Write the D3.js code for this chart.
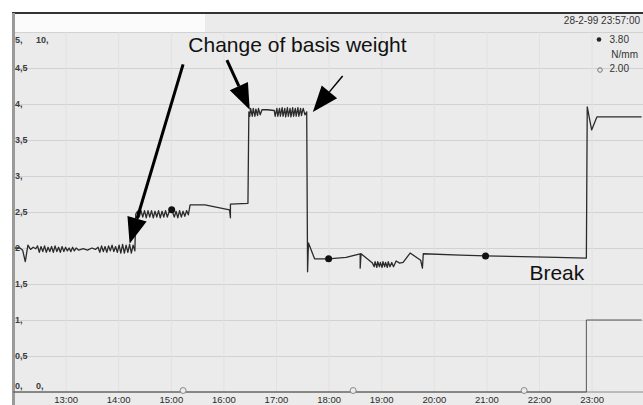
<!DOCTYPE html>
<html>
<head>
<meta charset="utf-8">
<script src="https://cdn.jsdelivr.net/npm/d3@7"></script>
<style>
  body { margin: 0; background: #fff; }
  svg { display: block; font-family: Arial, "Liberation Sans", sans-serif; }
</style>
</head>
<body>
<svg class="trend" width="643" height="405"></svg>
<script>
// tension trace (N/mm), time of day -> value
const tension = [
  ['12:02', 2.00], ['12:08', 2.00], ['12:11', 1.97], ['12:14', 1.81], ['12:17', 2.04], ['12:20', 1.98],
  ['12:23', 2.01], ['12:26', 1.99],
  ['12:28', 2.03], ['12:30', 1.94], ['12:32', 2.02], ['12:34', 1.95], ['12:36', 2.03], ['12:38', 1.94],
  ['12:40', 2.01], ['12:42', 1.95], ['12:44', 2.02], ['12:46', 1.94], ['12:48', 2.03], ['12:50', 1.95],
  ['12:52', 2.01], ['12:54', 1.94], ['12:56', 2.02], ['12:58', 1.95], ['13:00', 2.01], ['13:02', 1.96],
  ['13:04', 2.00], ['13:06', 1.95], ['13:08', 2.01], ['13:10', 1.96], ['13:12', 2.00], ['13:15', 1.97],
  ['13:20', 1.99], ['13:25', 1.97], ['13:30', 2.00], ['13:34', 1.98], ['13:37', 2.01],
  ['13:39', 1.94], ['13:41', 2.03], ['13:43', 1.95], ['13:45', 2.02], ['13:47', 1.94], ['13:49', 2.03],
  ['13:51', 1.96], ['13:53', 2.04], ['13:55', 1.95], ['13:57', 2.02], ['13:59', 1.94], ['14:01', 2.04],
  ['14:03', 1.93], ['14:05', 2.05], ['14:07', 1.93], ['14:09', 2.04], ['14:11', 1.94], ['14:13', 2.05],
  ['14:15', 1.93], ['14:17', 2.04], ['14:19', 1.96],
  ['14:20', 2.47], ['14:22', 2.51], ['14:24', 2.43], ['14:26', 2.52], ['14:28', 2.43], ['14:30', 2.52],
  ['14:32', 2.42], ['14:34', 2.52], ['14:36', 2.43], ['14:38', 2.52], ['14:40', 2.42], ['14:42', 2.51],
  ['14:44', 2.43], ['14:46', 2.52], ['14:48', 2.42], ['14:50', 2.51], ['14:52', 2.43], ['14:54', 2.52],
  ['14:56', 2.43], ['14:58', 2.50], ['15:01', 2.53], ['15:04', 2.43], ['15:06', 2.51], ['15:08', 2.42],
  ['15:10', 2.52], ['15:12', 2.43], ['15:14', 2.51], ['15:16', 2.44], ['15:18', 2.52], ['15:20', 2.46],
  ['15:22', 2.60], ['15:39', 2.60], ['16:07', 2.53], ['16:08', 2.42], ['16:08', 2.61], ['16:28', 2.62],
  ['16:29', 3.89], ['16:30', 3.83], ['16:31', 3.94], ['16:33', 3.83], ['16:34', 3.94], ['16:36', 3.83],
  ['16:37', 3.93], ['16:39', 3.84], ['16:40', 3.94], ['16:42', 3.85], ['16:44', 3.92],
  ['16:50', 3.92], ['16:58', 3.91],
  ['16:59', 3.83], ['17:01', 3.94], ['17:02', 3.83], ['17:04', 3.94], ['17:05', 3.83], ['17:07', 3.95],
  ['17:08', 3.83], ['17:10', 3.94], ['17:11', 3.82], ['17:13', 3.95], ['17:14', 3.83], ['17:16', 3.94],
  ['17:17', 3.82], ['17:19', 3.95], ['17:20', 3.83], ['17:22', 3.94], ['17:23', 3.83], ['17:25', 3.95],
  ['17:26', 3.83], ['17:28', 3.94], ['17:29', 3.84], ['17:31', 3.94], ['17:33', 3.85], ['17:35', 3.89],
  ['17:36', 1.67], ['17:37', 2.07], ['17:44', 1.85], ['18:00', 1.85], ['18:20', 1.87], ['18:36', 1.92],
  ['18:36', 1.72], ['18:37', 1.92], ['18:50', 1.79],
  ['18:52', 1.74], ['18:53', 1.81], ['18:55', 1.73], ['18:56', 1.81], ['18:58', 1.74], ['18:59', 1.80],
  ['19:01', 1.73], ['19:02', 1.81], ['19:04', 1.74], ['19:05', 1.80], ['19:07', 1.73], ['19:08', 1.81],
  ['19:10', 1.74], ['19:12', 1.80], ['19:14', 1.74], ['19:17', 1.82], ['19:21', 1.79], ['19:25', 1.80],
  ['19:33', 1.93], ['19:45', 1.83], ['19:47', 1.72], ['19:48', 1.92], ['20:30', 1.90], ['20:59', 1.89],
  ['21:40', 1.88], ['22:20', 1.87], ['22:54', 1.86],
  ['22:55', 3.96], ['23:00', 3.64], ['23:06', 3.82], ['23:57', 3.82]
];

// second trace on the 0..10 scale
const setpoint = [['12:00', 0], ['22:54', 0], ['22:54', 2], ['23:57', 2]];

const tensionMarkers = [['15:01', 2.53], ['18:00', 1.85], ['20:59', 1.89]];
const setpointMarkers = [['15:14', 0], ['18:28', 0], ['21:43', 0]];

const yTicks = [0, 0.5, 1, 1.5, 2, 2.5, 3, 3.5, 4, 4.5, 5];
const yLabels = ['0,', '0,5', '1,', '1,5', '2', '2,5', '3,', '3,5', '4,', '4,5', '5,'];
const y2Ticks = [0, 10];
const y2Labels = ['0,', '10,'];
const xTicks = ['13:00', '14:00', '15:00', '16:00', '17:00', '18:00', '19:00', '20:00', '21:00', '22:00', '23:00'];

const stamp = '28-2-99 23:57:00';
const legend = [['3.80', 'filled'], ['N/mm', 'none'], ['2.00', 'open']];

// arrows: [start time, start value, tip time, tip value, shaft width]
const arrows = [
  ['15:14', 4.55, '14:13', 2.06, 3],
  ['16:04', 4.61, '16:30', 3.92, 3],
  ['18:16', 4.39, '17:42', 3.89, 1.5]
];
const notes = [['Change of basis weight', '15:20', 4.72], ['Break', '21:49', 1.56]];

const svg = d3.select('.trend');
const width = +svg.attr('width');
const height = +svg.attr('height');

const parse = d3.timeParse('%H:%M');

const x = d3.scaleTime()
  .domain([parse('12:00'), parse('23:57')])
  .range([13, 641.6]);
const y = d3.scaleLinear().domain([0, 5]).range([392, 32]);
const y2 = d3.scaleLinear().domain([0, 10]).range([392, 32]);

// paper
svg.append('rect').attr('x', 13).attr('y', 13).attr('width', width - 13).attr('height', height - 13)
  .attr('fill', '#ebebeb');
svg.append('rect').attr('x', 15).attr('y', 14).attr('width', 190).attr('height', 19).attr('fill', '#fbfbfb');

// horizontal grid
svg.append('g')
  .attr('transform', 'translate(15,0)')
  .call(d3.axisRight(y).tickValues(yTicks.slice(1)).tickSize(width - 15).tickFormat(''))
  .call(g => g.select('.domain').remove())
  .call(g => g.selectAll('line').attr('stroke', '#d2d2d2'));

// vertical grid
svg.append('g')
  .attr('transform', 'translate(0,392)')
  .call(d3.axisBottom(x).tickValues(xTicks.map(parse)).tickSize(-360).tickFormat(''))
  .call(g => g.select('.domain').remove())
  .call(g => g.selectAll('line').attr('stroke', '#e1e1e1'));

// frame
svg.append('line').attr('x1', 12).attr('x2', width).attr('y1', 13).attr('y2', 13)
  .attr('stroke', '#333').attr('stroke-width', 2);
svg.append('line').attr('x1', 13.5).attr('x2', 13.5).attr('y1', 13).attr('y2', height)
  .attr('stroke', '#9a9a9a').attr('stroke-width', 3);
svg.append('line').attr('x1', 15).attr('x2', width).attr('y1', 392).attr('y2', 392)
  .attr('stroke', '#8a8a8a');

// y labels, end ones kept inside the plot
function yLabelAxis(scale, values, labels, left) {
  svg.append('g')
    .attr('transform', `translate(${left},0)`)
    .style('font-size', '9px')
    .style('font-weight', 'bold')
    .call(d3.axisRight(scale).tickValues(values).tickSize(0).tickPadding(0)
      .tickFormat(d => labels[values.indexOf(d)]))
    .call(g => g.select('.domain').remove())
    .call(g => g.selectAll('text').attr('fill', '#3a3a3a')
      .attr('y', d => d === values[0] ? -6 : d === values[values.length - 1] ? 8 : 0));
}
yLabelAxis(y, yTicks, yLabels, 15);
yLabelAxis(y2, y2Ticks, y2Labels, 36);

// x labels
svg.append('g')
  .attr('transform', 'translate(0,392)')
  .style('font-size', '9.5px')
  .call(d3.axisBottom(x).tickValues(xTicks.map(parse)).tickSize(0).tickPadding(4)
    .tickFormat(d3.timeFormat('%H:%M')))
  .call(g => g.select('.domain').remove())
  .call(g => g.selectAll('text').attr('fill', '#2a2a2a'));

// traces
const line = d3.line().x(d => x(parse(d[0])));

svg.append('path')
  .datum(setpoint)
  .attr('fill', 'none')
  .attr('stroke', '#555')
  .attr('stroke-width', 1)
  .attr('d', line.y(d => y2(d[1])));

svg.append('path')
  .datum(tension)
  .attr('fill', 'none')
  .attr('stroke', '#2b2b2b')
  .attr('stroke-width', 1.3)
  .attr('stroke-linejoin', 'round')
  .attr('d', line.y(d => y(d[1])));

svg.selectAll('.dot')
  .data(tensionMarkers)
  .join('circle')
  .attr('cx', d => x(parse(d[0])))
  .attr('cy', d => y(d[1]))
  .attr('r', 3.5)
  .attr('fill', '#111');

svg.selectAll('.ring')
  .data(setpointMarkers)
  .join('circle')
  .attr('cx', d => x(parse(d[0])))
  .attr('cy', d => y2(d[1]) - 1.5)
  .attr('r', 3)
  .attr('fill', '#ebebeb')
  .attr('stroke', '#888');

// stamp and legend
const info = svg.append('g').style('font-size', '10px').attr('fill', '#333').attr('text-anchor', 'end');
info.append('text').attr('x', 640).attr('y', 24).text(stamp);
info.selectAll('.leg')
  .data(legend)
  .join('text')
  .attr('x', (d, i) => i === 1 ? 638 : 629)
  .attr('y', (d, i) => 43 + i * 14.5)
  .text(d => d[0]);
svg.append('circle').attr('cx', 599).attr('cy', 39.5).attr('r', 2.3).attr('fill', '#222');
svg.append('circle').attr('cx', 600).attr('cy', 70).attr('r', 2.3).attr('fill', 'none').attr('stroke', '#777');

// annotations
arrows.forEach(([t0, v0, t1, v1, w]) => {
  const sx = x(parse(t0)), sy = y(v0), tx = x(parse(t1)), ty = y(v1);
  const len = Math.hypot(tx - sx, ty - sy);
  const ux = (tx - sx) / len, uy = (ty - sy) / len;
  const bx = tx - ux * 26, by = ty - uy * 26;
  svg.append('line').attr('x1', sx).attr('y1', sy).attr('x2', bx).attr('y2', by)
    .attr('stroke', '#000').attr('stroke-width', w);
  svg.append('path')
    .attr('d', `M${tx},${ty}L${bx - uy * 10},${by + ux * 10}L${bx + uy * 10},${by - ux * 10}Z`)
    .attr('fill', '#000');
});

svg.selectAll('.note')
  .data(notes)
  .join('text')
  .attr('x', d => x(parse(d[1])))
  .attr('y', d => y(d[2]))
  .style('font-size', '21px')
  .attr('fill', '#111')
  .text(d => d[0]);
</script>
</body>
</html>
